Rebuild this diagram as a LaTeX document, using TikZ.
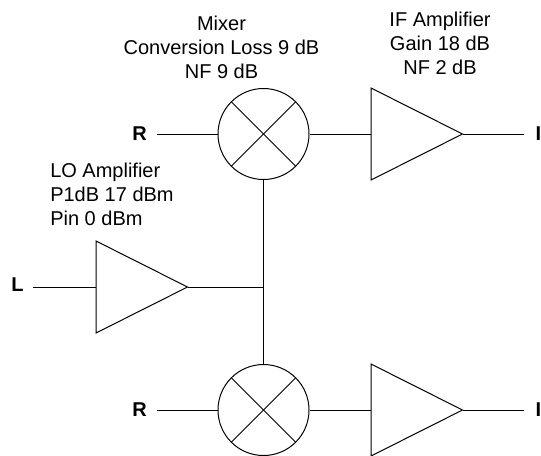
\documentclass[tikz,border=0pt]{standalone}
\usepackage{fontspec}
\setmainfont{Liberation Sans}
\tikzset{
  px/.style={x=0.75pt,y=-0.75pt},
  wire/.style={draw=black,line width=0.75pt},
  lbl/.style={font=\fontsize{15pt}{18pt}\selectfont,align=center,inner sep=0pt},
  port/.style={font=\fontsize{15pt}{18pt}\selectfont\bfseries,inner sep=0pt},
  mixer/.style={circle,draw=black,line width=0.75pt,minimum size=68.25pt,inner sep=0pt,path picture={
    \draw[line width=0.75pt] (path picture bounding box.north west)--(path picture bounding box.south east);
    \draw[line width=0.75pt] (path picture bounding box.north east)--(path picture bounding box.south west);}},
}
\begin{document}
\begin{tikzpicture}[px]
\useasboundingbox (0,0) rectangle (541,455);
\node[mixer] (m1) at (263.5,134) {};
\node[mixer] (m2) at (263.5,410) {};
\coordinate (a1a) at (371,88); \coordinate (a1b) at (371,180); \coordinate (a1t) at (462.5,134);
\coordinate (a2a) at (371,364); \coordinate (a2b) at (371,456); \coordinate (a2t) at (462.5,410);
\coordinate (a3a) at (96,241); \coordinate (a3b) at (96,333); \coordinate (a3t) at (187.5,287);
\draw[wire] (a1a)--(a1b)--(a1t)--cycle;
\draw[wire] (a2a)--(a2b)--(a2t)--cycle;
\draw[wire] (a3a)--(a3b)--(a3t)--cycle;
\node[port] (r1) at (139.5,134) {R};
\node[port] (r2) at (139.5,410) {R};
\node[port] (l) at (17.5,285) {L};
\node[port,anchor=west] (i1) at (535.3,134) {I};
\node[port,anchor=west] (i2) at (535.3,410) {I};
\coordinate (j) at (263.5,287);
\coordinate (r1e) at (157,134);
\coordinate (r2e) at (157,410);
\coordinate (le) at (33,287);
\coordinate (o1) at (524,134);
\coordinate (o2) at (524,410);
\draw[wire] (r1e) -- (m1.west);
\draw[wire] (r2e) -- (m2.west);
\draw[wire] (le) -- (a3a|-a3t);
\draw[wire] (a3t) -- (j);
\draw[wire] (m1.south) -- (m2.north);
\draw[wire] (m1.east) -- (a1a|-m1.east);
\draw[wire] (m2.east) -- (a2a|-m2.east);
\draw[wire] (a1t) -- (o1);
\draw[wire] (a2t) -- (o2);
\node[lbl] (t1) at (221.5,47) {Mixer\\Conversion Loss 9 dB\\NF 9 dB};
\node[lbl] (t2) at (440,43) {IF Amplifier\\Gain 18 dB\\NF 2 dB};
\node[lbl,align=left,anchor=west] (t3) at (50,194) {LO Amplifier\\P1dB 17 dBm\\Pin 0 dBm};
\end{tikzpicture}
\end{document}
